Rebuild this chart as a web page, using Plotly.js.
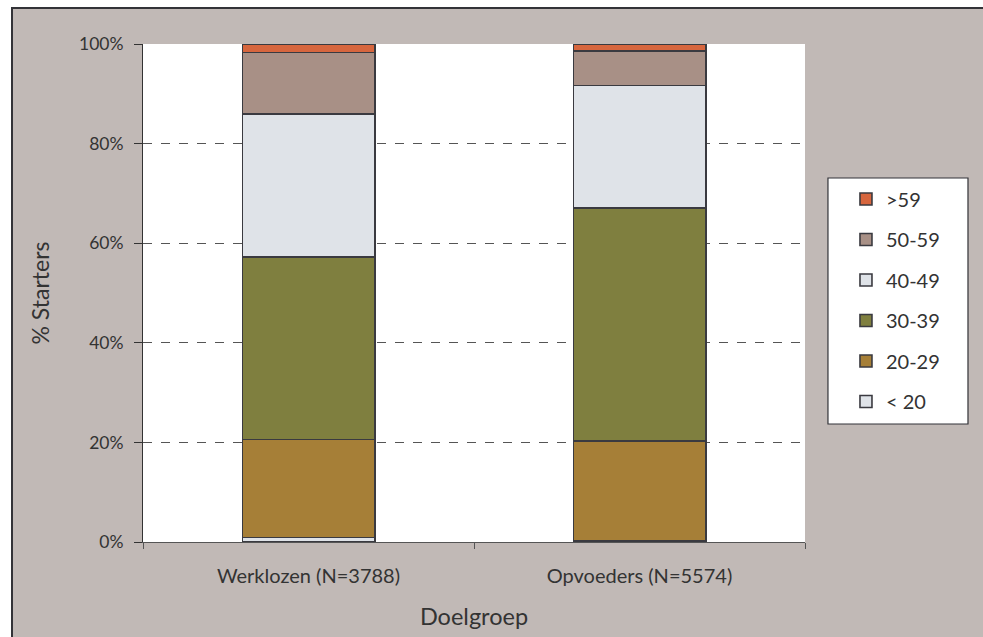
<!DOCTYPE html>
<html>
<head>
<meta charset="utf-8">
<script src="https://cdn.plot.ly/plotly-3.0.1.min.js"></script>
<style>
  html, body { margin: 0; padding: 0; background: #ffffff; overflow: hidden; }
  #frame { position: absolute; left: 11px; top: 7px; width: 975px; height: 635px;
           border-left: 2px solid #333338; border-top: 2px solid #333338; background: #c1b9b6; }
  #chart { position: absolute; left: 0; top: 0; width: 970px; height: 628px; }
</style>
</head>
<body>
<div id="frame"><div id="chart"></div></div>
<script>
const categories = ["Werklozen (N=3788)", "Opvoeders (N=5574)"];
const seriesNames = ["< 20", "20-29", "30-39", "40-49", "50-59", ">59"];
const under20 = [0.9, 0.3];
const age20_29 = [19.7, 20.0];
const age30_39 = [36.6, 46.8];
const age40_49 = [28.7, 24.6];
const age50_59 = [12.4, 6.9];
const over59 = [1.7, 1.4];
const seriesValues = [under20, age20_29, age30_39, age40_49, age50_59, over59];
const seriesColors = ["#dfe3e8", "#a67f37", "#7f7f3f", "#dfe3e8", "#a89086", "#d7663e"];
const yTickVals = [0, 20, 40, 60, 80, 100];
const yTickText = ["0%", "20%", "40%", "60%", "80%", "100%"];

const font = "Lato, 'Open Sans', sans-serif";
const traces = seriesNames.map((name, i) => ({
  type: "bar",
  name: name,
  x: categories,
  y: seriesValues[i],
  legendgroup: "g" + i,
  legendrank: 1000 + (seriesNames.length - i),
  marker: { color: seriesColors[i], line: { color: "#3a3a40", width: 1.6 } },
  hoverinfo: "name+y"
}));

const layout = {
  width: 970, height: 628,
  margin: { l: 130, r: 178, t: 35, b: 95 },
  paper_bgcolor: "rgba(0,0,0,0)",
  plot_bgcolor: "#ffffff",
  barmode: "stack",
  bargap: 0.6,
  font: { family: font, color: "#333333", size: 18 },
  showlegend: true,
  legend: {
    x: 1.0619, xanchor: "left", y: 0.728, yanchor: "top",
    traceorder: "grouped", tracegroupgap: 11.5,
    bgcolor: "rgba(0,0,0,0)", borderwidth: 0,
    font: { family: font, size: 20, color: "#333333" }
  },
  shapes: [{
    type: "rect", xref: "paper", yref: "paper",
    x0: 1.0347, x1: 1.2462, y0: 0.2369, y1: 0.7309,
    fillcolor: "#ffffff", line: { color: "#333338", width: 1.2 }, layer: "below"
  }],
  xaxis: {
    type: "category",
    showline: true, linecolor: "#555555", linewidth: 1,
    ticks: "outside", tickson: "boundaries", ticklen: 6, tickcolor: "#555555",
    ticklabelstandoff: 16,
    tickfont: { family: font, size: 20, color: "#333333" },
    title: { text: "Doelgroep", font: { family: font, size: 23.5, color: "#333333" }, standoff: 22 },
    showgrid: false, zeroline: false, fixedrange: true
  },
  yaxis: {
    range: [0, 100],
    tickvals: yTickVals, ticktext: yTickText,
    showline: true, linecolor: "#333333", linewidth: 1,
    ticks: "outside", ticklen: 8, tickcolor: "#333333",
    ticklabelstandoff: 7,
    tickfont: { family: font, size: 17.5, color: "#333333" },
    showgrid: true, gridcolor: "#555555", griddash: "dash", gridwidth: 1,
    zeroline: false,
    title: { text: "% Starters", font: { family: font, size: 23, color: "#333333" }, standoff: 22 },
    fixedrange: true
  }
};

Plotly.newPlot("chart", traces, layout, { displayModeBar: false, staticPlot: true });
</script>
</body>
</html>
